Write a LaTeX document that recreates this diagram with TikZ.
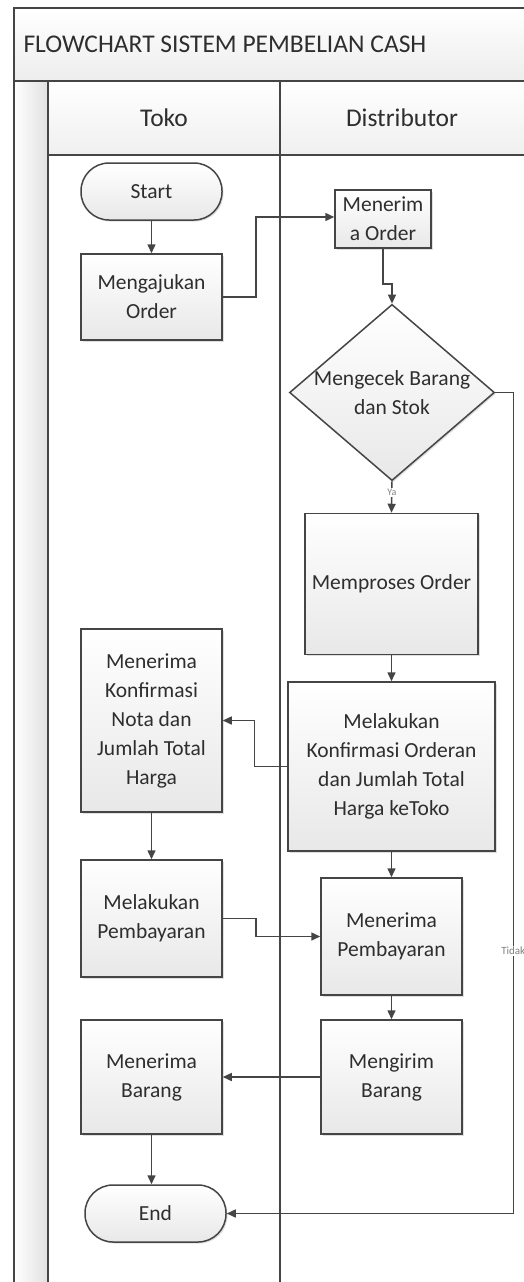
\documentclass[tikz,border=0pt]{standalone}
\usepackage{fontspec}
\setmainfont{Carlito}
\usepackage{tikz}
\usetikzlibrary{arrows.meta,shapes.geometric,shadows}

\definecolor{edge}{HTML}{454545}
\definecolor{ink}{HTML}{2E2E2E}

\begin{document}
\begin{tikzpicture}[x=1pt,y=-1pt,
        lane/.style={draw=edge, line width=1.3pt},
        proc/.style={draw=edge, line width=1.5pt, top color=white, bottom color=black!9,
            text=ink, align=center, inner sep=2pt, font=\fontsize{21.5}{29}\selectfont,
            drop shadow={shadow xshift=1.5pt, shadow yshift=-1.5pt, opacity=0.25}},
        term/.style={proc, rounded corners=28pt, minimum width=141pt, minimum height=57pt},
        dec/.style={proc, diamond, inner sep=-6pt, minimum width=205pt, minimum height=169pt},
        flow/.style={draw=edge, line width=1.5pt, -{Triangle[length=9pt,width=8pt]}},
        lbl/.style={text=black!50, fill=white, inner sep=1pt, font=\fontsize{11}{12}\selectfont}]
        \useasboundingbox (0,0) rectangle (524,1282);

        % swimlanes
        \fill[white] (0,0) rectangle (524,1282);
        \draw[lane, top color=white, bottom color=black!7] (14,8) rectangle (545,81);
        \draw[lane, left color=white, right color=black!12] (14,81) rectangle (48,1295);
        \draw[lane, top color=white, bottom color=black!6] (48,81) rectangle (280,155);
        \draw[lane, top color=white, bottom color=black!6] (280,81) rectangle (545,155);
        \draw[lane] (280,155) -- (280,1295);

        \node[anchor=west, text=ink, font=\fontsize{25.5}{30}\selectfont] (title) at (20,44.5) {FLOWCHART SISTEM PEMBELIAN CASH};
        \node[text=ink, font=\fontsize{25.5}{30}\selectfont] (toko) at (164,118) {Toko};
        \node[text=ink, font=\fontsize{25.5}{30}\selectfont] (dist) at (402,118) {Distributor};

        % steps
        \node[term] (start) at (151.5,191.5) {Start};
        \node[proc, minimum width=141pt, minimum height=86pt] (ajukan) at (151.5,297) {Mengajukan\\Order};
        \node[proc, minimum width=96pt, minimum height=58pt, inner sep=1pt] (terimaorder) at (383,219) {Menerim\\a Order};
        \node[dec] (cek) at (392,392.5) {Mengecek Barang\\dan Stok};
        \node[proc, minimum width=173pt, minimum height=141pt] (proses) at (391.5,584) {Memproses Order};
        \node[proc, minimum width=207pt, minimum height=169pt] (konfirm) at (391.5,766.5) {Melakukan\\Konfirmasi Orderan\\dan Jumlah Total\\Harga keToko};
        \node[proc, minimum width=141pt, minimum height=183pt] (terimakonf) at (151.5,720.5) {Menerima\\Konfirmasi\\Nota dan\\Jumlah Total\\Harga};
        \node[proc, minimum width=141pt, minimum height=117pt] (bayar) at (151.5,918.5) {Melakukan\\Pembayaran};
        \node[proc, minimum width=141pt, minimum height=117pt] (terimabayar) at (391.5,936.5) {Menerima\\Pembayaran};
        \node[proc, minimum width=141pt, minimum height=114pt] (kirim) at (391.5,1077) {Mengirim\\Barang};
        \node[proc, minimum width=141pt, minimum height=114pt] (terimabarang) at (151.5,1077) {Menerima\\Barang};
        \node[term] (end) at (155.5,1213.5) {End};

        % flow
        \draw[flow] (start) -- (ajukan);
        \draw[flow] (ajukan.east) -- ++(33,0) |- ([yshift=2pt]terimaorder.west);
        \draw[flow] (terimaorder.south) -- ++(0,35) -| (cek.north);
        \draw[flow] (cek.south) -- node[lbl, pos=0.35, font=\fontsize{10}{11}\selectfont] {Ya} (proses.north);
        \draw[flow] (cek.east) -- ++(18,0) |- (end.east) node[lbl, pos=0.34] {Tidak};
        \draw[flow] (proses) -- (konfirm);
        \draw[flow] (konfirm.west) -- ++(-33,0) |- (terimakonf.east);
        \draw[flow] (terimakonf) -- (bayar);
        \draw[flow] (konfirm) -- (terimabayar);
        \draw[flow] (bayar.east) -- ++(33,0) |- (terimabayar.west);
        \draw[flow] (terimabayar) -- (kirim);
        \draw[flow] (kirim) -- (terimabarang);
        \draw[flow] (terimabarang.south) -- (terimabarang.south |- end.north);
    \end{tikzpicture}
\end{document}
